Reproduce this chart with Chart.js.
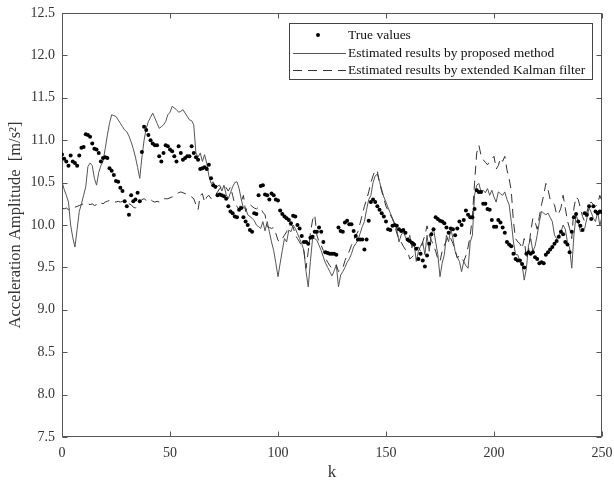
<!DOCTYPE html>
<html>
<head>
<meta charset="utf-8">
<script src="https://cdn.jsdelivr.net/npm/chart.js@4/dist/chart.umd.min.js"></script>
<style>
html,body{margin:0;padding:0;background:#fff}
#wrap{width:614px;height:486px;position:relative}
</style>
</head>
<body>
<div id="wrap"><canvas id="chart"></canvas></div>
<script>
// k = 0..250
const trueValues = [
10.83,10.78,10.75,10.70,10.82,10.75,10.73,10.70,10.82,10.91,
10.92,11.07,11.06,11.04,10.96,10.90,10.89,10.85,10.75,10.79,
10.80,10.79,10.67,10.64,10.59,10.52,10.51,10.44,10.40,10.28,
10.22,10.12,10.35,10.28,10.30,10.38,10.28,10.86,11.16,11.12,
11.06,11.00,10.96,10.94,10.94,10.81,10.75,10.85,10.94,10.93,
10.89,10.87,10.81,10.75,10.93,10.85,10.77,10.79,10.81,10.81,
10.93,10.85,10.80,10.77,10.66,10.67,10.68,10.66,10.71,10.55,
10.47,10.45,10.35,10.36,10.35,10.34,10.31,10.22,10.16,10.14,
10.10,10.09,10.18,10.20,10.09,10.04,10.00,9.94,9.92,10.14,
10.13,10.35,10.46,10.47,10.36,10.35,10.30,10.37,10.35,10.30,
10.29,10.17,10.13,10.10,10.08,10.06,10.02,10.11,10.10,10.00,
9.96,9.87,9.80,9.80,9.78,9.85,9.86,9.92,9.92,9.97,
9.92,9.80,9.68,9.67,9.66,9.66,9.66,9.65,9.97,9.93,
9.92,10.03,10.05,10.01,10.01,9.93,9.87,9.83,9.83,9.83,
9.71,9.83,10.05,10.27,10.30,10.27,10.22,10.18,10.14,10.10,
10.04,9.95,9.94,9.99,10.00,9.99,9.95,9.93,9.94,9.91,
9.83,9.81,9.79,9.77,9.72,9.60,9.66,9.58,9.51,9.64,
9.78,9.89,9.95,10.09,10.07,10.05,10.04,10.02,9.97,9.91,
9.96,9.95,9.88,9.96,10.04,10.00,10.06,10.17,10.12,10.09,
10.09,10.19,10.41,10.39,10.39,10.25,10.25,10.19,10.18,10.06,
9.98,9.98,10.06,10.03,9.97,9.91,9.80,9.77,9.75,9.66,
9.60,9.58,9.58,9.54,9.50,9.66,9.68,9.66,9.68,9.62,
9.60,9.55,9.56,9.55,9.65,9.68,9.71,9.74,9.78,9.81,
9.86,9.92,9.89,9.80,9.77,9.68,9.92,10.09,10.13,10.04,
9.99,9.94,10.14,10.12,10.22,10.07,10.22,10.16,10.14,10.16,
10.15
]

const proposedValues = [
10.51,10.42,10.35,10.27,10.00,9.85,9.74,9.95,10.16,10.25,
10.35,10.45,10.69,10.73,10.70,10.55,10.47,10.62,10.70,10.75,
10.90,11.06,11.20,11.30,11.29,11.28,11.24,11.20,11.16,11.12,
11.10,11.05,10.98,10.90,10.80,10.68,10.55,10.80,11.00,11.14,
11.22,11.27,11.32,11.26,11.20,11.14,11.16,11.18,11.22,11.30,
11.33,11.40,11.38,11.36,11.33,11.34,11.36,11.32,11.28,11.24,
11.23,11.18,10.85,10.80,10.85,10.75,10.83,10.73,10.58,10.49,
10.51,10.43,10.46,10.47,10.40,10.47,10.36,10.31,10.38,10.45,
10.50,10.51,10.43,10.30,10.20,10.20,10.12,10.10,10.08,10.05,
10.00,9.98,9.96,10.04,9.93,10.04,9.92,9.80,9.70,9.55,
9.39,9.55,9.70,9.84,9.80,9.94,9.92,10.00,9.96,9.90,
9.84,9.78,9.70,9.45,9.27,9.57,9.84,9.84,9.82,9.76,
9.70,9.62,9.55,9.50,9.45,9.40,9.46,9.53,9.27,9.41,
9.45,9.50,9.56,9.60,9.66,9.74,9.78,9.82,9.90,9.98,
10.04,10.18,10.30,10.35,10.50,10.58,10.60,10.51,10.42,10.33,
10.27,10.20,10.14,10.08,10.02,9.95,9.80,9.88,9.92,9.86,
9.80,9.88,9.73,9.80,9.57,9.69,9.75,9.80,9.65,9.88,
9.69,9.90,9.96,9.80,9.65,9.39,9.55,9.65,9.88,9.80,
9.96,9.84,9.69,9.62,9.57,9.45,9.57,9.52,9.49,9.80,
9.88,10.35,10.47,10.49,10.39,10.41,10.38,10.43,10.35,10.41,
10.33,10.27,10.39,10.37,10.35,10.39,10.30,10.24,10.04,9.80,
9.65,9.65,9.57,9.53,9.35,9.49,9.76,9.84,9.69,9.75,
9.88,10.04,10.16,10.14,10.12,10.14,10.09,10.04,9.88,9.84,
9.88,9.92,10.00,9.95,9.80,9.73,9.49,9.88,10.12,10.04,
9.92,9.94,9.96,10.08,10.20,10.15,10.08,10.04,10.16,9.99,
10.10
]

const ekfValues = [
10.20,10.19,10.20,10.18,10.20,10.19,10.21,10.22,10.23,10.24,
10.25,10.26,10.25,10.24,10.25,10.23,10.24,10.27,10.26,10.25,
10.27,10.28,10.29,10.29,10.28,10.27,10.28,10.27,10.28,10.27,
10.27,10.25,10.24,10.21,10.20,10.24,10.27,10.30,10.31,10.29,
10.31,10.30,10.28,10.27,10.28,10.27,10.30,10.31,10.31,10.31,
10.32,10.33,10.35,10.37,10.38,10.39,10.38,10.37,10.36,10.35,
10.33,10.31,10.24,10.18,10.35,10.37,10.27,10.33,10.35,10.31,
10.33,10.35,10.39,10.43,10.45,10.47,10.44,10.40,10.45,10.35,
10.24,10.22,10.18,10.28,10.35,10.16,10.22,10.24,10.22,10.20,
10.19,10.21,10.20,10.15,10.12,9.98,9.97,9.96,9.97,9.90,
9.82,9.80,9.84,9.88,9.92,10.00,10.00,9.98,9.88,9.84,
9.80,9.75,9.69,9.49,9.69,9.90,10.06,10.12,9.88,9.80,
9.76,9.70,9.61,9.56,9.52,9.49,9.51,9.53,9.45,9.47,
9.49,9.58,9.64,9.69,9.76,9.82,9.88,9.92,10.02,10.12,
10.22,10.30,10.39,10.50,10.58,10.65,10.63,10.50,10.40,10.31,
10.22,10.17,10.12,10.07,10.00,9.90,9.84,9.80,9.75,9.71,
9.69,9.60,9.62,9.65,9.73,9.74,9.69,9.80,9.88,9.99,
9.88,9.82,9.76,9.69,9.60,9.57,9.69,9.76,9.82,9.88,
9.84,9.78,9.70,9.61,9.64,9.62,9.57,9.64,9.74,9.88,
10.10,10.50,10.85,10.94,10.82,10.77,10.74,10.71,10.75,10.78,
10.81,10.66,10.70,10.79,10.75,10.81,10.65,10.55,10.40,10.04,
9.84,9.80,9.78,9.72,9.84,9.60,9.70,9.92,10.08,10.04,
9.95,10.10,10.24,10.35,10.49,10.42,10.30,10.26,10.24,10.12,
10.14,10.20,10.35,10.20,10.05,9.96,9.84,10.20,10.33,10.30,
10.20,10.10,10.04,10.15,10.25,10.27,10.24,10.22,10.25,10.35,
10.28
]

const seriesNames = [
"True values",
"Estimated results by proposed method",
"Estimated results by extended Kalman filter"
]

const serif = "'Liberation Serif', 'DejaVu Serif', serif"
const textColor = "#333"
const frameColor = "#555"

const toPoints = arr => arr.map((v,i)=>({x:i,y:v}))

// box, inward ticks on all sides, legend in upper right
const framePlugin = {
id:"frame",
beforeDraw(chart){
const {ctx, chartArea:a} = chart
ctx.save()
ctx.strokeStyle = frameColor
ctx.lineWidth = 1
ctx.strokeRect(Math.round(a.left)+0.5, Math.round(a.top)+0.5, Math.round(a.right-a.left)-1, Math.round(a.bottom-a.top)-1)
ctx.restore()
},
afterDraw(chart){
const {ctx, chartArea:a, scales} = chart
const L = Math.round(a.left)+0.5, R = Math.round(a.right)-0.5
const T = Math.round(a.top)+0.5, B = Math.round(a.bottom)-0.5
ctx.save()
ctx.strokeStyle = frameColor
ctx.lineWidth = 1
ctx.setLineDash([])
ctx.beginPath()
scales.x.ticks.forEach(t=>{
const px = Math.round(scales.x.getPixelForValue(t.value))+0.5
ctx.moveTo(px,B); ctx.lineTo(px,B-5)
ctx.moveTo(px,T); ctx.lineTo(px,T+5)
})
scales.y.ticks.forEach(t=>{
const py = Math.round(scales.y.getPixelForValue(t.value))+0.5
ctx.moveTo(L,py); ctx.lineTo(L+5,py)
ctx.moveTo(R,py); ctx.lineTo(R-5,py)
})
ctx.stroke()

// legend box
const bx = 289.5, by = 23.5, bw = 303, bh = 56
ctx.fillStyle = "#fff"
ctx.fillRect(bx,by,bw,bh)
ctx.strokeStyle = "#444"
ctx.strokeRect(bx,by,bw,bh)

const rows = [35,53,70]
ctx.font = "13.5px " + serif
ctx.textBaseline = "middle"
chart.data.datasets.forEach((ds,i)=>{
const y = rows[i]
ctx.fillStyle = "#111"
ctx.fillText(ds.label, 348, y)
ctx.strokeStyle = ds.borderColor
ctx.lineWidth = 1
if(i===0){
ctx.beginPath()
ctx.fillStyle = "#000"
ctx.arc(318, y, 2, 0, Math.PI*2)
ctx.fill()
}else{
ctx.setLineDash(ds.borderDash || [])
ctx.beginPath()
ctx.moveTo(293, y+0.5)
ctx.lineTo(346, y+0.5)
ctx.stroke()
ctx.setLineDash([])
}
})
ctx.restore()
}
}

new Chart(document.getElementById("chart"),{
type:"line",
data:{
datasets:[
{
label:seriesNames[0],
data:toPoints(trueValues),
showLine:false,
pointRadius:2,
pointBackgroundColor:"#000",
pointBorderWidth:0,
borderColor:"#000",
order:0
},
{
label:seriesNames[1],
data:toPoints(proposedValues),
borderColor:"#555",
borderWidth:1,
pointRadius:0,
tension:0,
order:2
},
{
label:seriesNames[2],
data:toPoints(ekfValues),
borderColor:"#333",
borderWidth:1,
borderDash:[9,6],
pointRadius:0,
tension:0,
order:1
}
]
},
options:{
responsive:true,
maintainAspectRatio:false,
animation:false,
layout:{padding:{top:13,right:12,left:0,bottom:0}},
plugins:{
legend:{display:false},
tooltip:{enabled:false}
},
scales:{
x:{
type:"linear",
min:0,
max:250,
grid:{display:false,drawTicks:false},
border:{display:false},
ticks:{stepSize:50,autoSkip:false,maxRotation:0,padding:8,color:textColor,font:{family:serif,size:14}},
title:{display:true,text:"k",color:textColor,font:{family:serif,size:17},padding:{top:0,bottom:3}},
afterFit(s){ s.height = 49; s.paddingLeft = 0; s.paddingRight = 0 }
},
y:{
min:7.5,
max:12.5,
grid:{display:false,drawTicks:false},
border:{display:false},
ticks:{stepSize:0.5,autoSkip:false,padding:7,color:textColor,font:{family:serif,size:14},callback:v=>v.toFixed(1)},
title:{display:true,text:"Acceleration Amplitude  [m/s²]",color:textColor,font:{family:serif,size:16.5},padding:{top:6,bottom:0}},
afterFit(s){ s.width = 62; s.paddingTop = 0; s.paddingBottom = 0 }
}
}
},
plugins:[framePlugin]
})
</script>
</body>
</html>
